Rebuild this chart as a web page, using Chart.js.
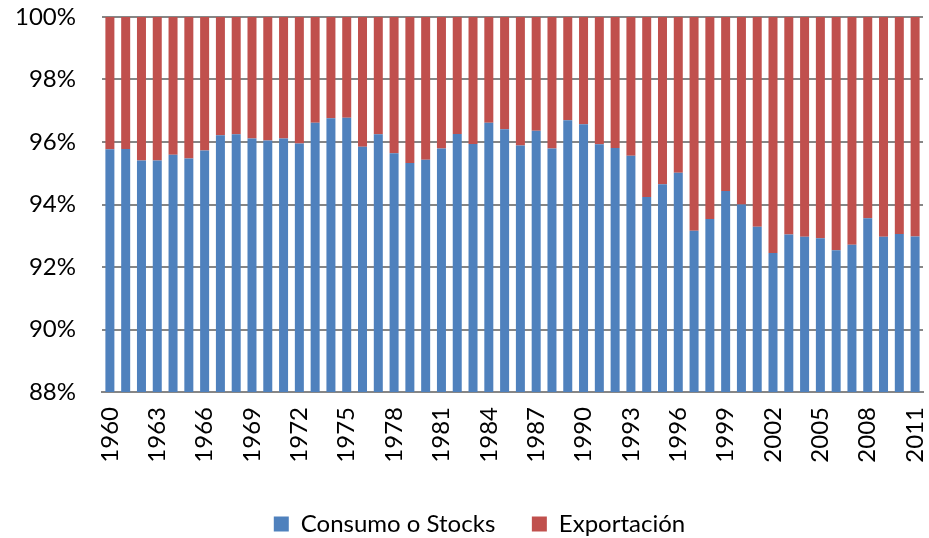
<!DOCTYPE html>
<html>
<head>
<meta charset="utf-8">
<script src="https://cdn.jsdelivr.net/npm/chart.js@4/dist/chart.umd.min.js"></script>
<style>
  html, body { margin: 0; padding: 0; background: #fff; }
  #wrap { width: 929px; height: 538px; }
</style>
</head>
<body>
<div id="wrap"><canvas id="c" width="929" height="538"></canvas></div>
<script>
const years = [];
for (let y = 1960; y <= 2011; y++) years.push(String(y));

const consumo = [
  95.77, 95.78, 95.41, 95.41, 95.59, 95.47, 95.73, 96.22, 96.25, 96.11,
  96.05, 96.11, 95.95, 96.62, 96.76, 96.78, 95.85, 96.25, 95.64, 95.33,
  95.43, 95.79, 96.26, 95.94, 96.62, 96.41, 95.89, 96.36, 95.79, 96.70,
  96.57, 95.93, 95.81, 95.56, 94.24, 94.65, 95.02, 93.16, 93.54, 94.43,
  94.00, 93.29, 92.45, 93.04, 92.97, 92.92, 92.54, 92.71, 93.56, 92.97,
  93.06, 92.98
];
const exportacion = [
  4.23, 4.22, 4.59, 4.59, 4.41, 4.53, 4.27, 3.78, 3.75, 3.89,
  3.95, 3.89, 4.05, 3.38, 3.24, 3.22, 4.15, 3.75, 4.36, 4.67,
  4.57, 4.21, 3.74, 4.06, 3.38, 3.59, 4.11, 3.64, 4.21, 3.30,
  3.43, 4.07, 4.19, 4.44, 5.76, 5.35, 4.98, 6.84, 6.46, 5.57,
  6.00, 6.71, 7.55, 6.96, 7.03, 7.08, 7.46, 7.29, 6.44, 7.03,
  6.94, 7.02
];
const yTicks = [88, 90, 92, 94, 96, 98, 100];

const FONT = "Lato, 'Liberation Sans', sans-serif";

const zeroPad = s => { s.paddingLeft = 0; s.paddingRight = 0; s.paddingTop = 0; s.paddingBottom = 0; };

const shiftLegend = {
  id: 'shiftLegend',
  afterLayout(chart) {
    if (chart.legend) { chart.legend.left += 18; chart.legend.right += 18; }
  }
};

new Chart(document.getElementById('c'), {
  type: 'bar',
  data: {
    labels: years,
    datasets: [
      { label: 'Consumo o Stocks', data: consumo, backgroundColor: '#4F81BD',
        categoryPercentage: 1.0, barPercentage: 0.57 },
      { label: 'Exportación', data: exportacion, backgroundColor: '#C0504D',
        categoryPercentage: 1.0, barPercentage: 0.57 }
    ]
  },
  plugins: [shiftLegend],
  options: {
    responsive: false,
    animation: false,
    layout: { padding: { left: 0, right: 6, top: 17, bottom: -8 } },
    plugins: {
      legend: {
        position: 'bottom',
        labels: {
          font: { family: FONT, size: 24 },
          color: '#000',
          boxWidth: 15, boxHeight: 15,
          padding: 12,
          generateLabels: chart => {
            const items = Chart.defaults.plugins.legend.labels.generateLabels(chart);
            if (items.length) items[0].text = items[0].text + '    ';
            return items;
          }
        }
      },
      tooltip: { enabled: false }
    },
    scales: {
      x: {
        stacked: true,
        grid: { display: false, drawTicks: false },
        border: { display: true, color: '#868686', width: 2 },
        ticks: {
          autoSkip: false,
          minRotation: 90, maxRotation: 90,
          padding: 15,
          color: '#000',
          font: { family: FONT, size: 24 },
          callback: function (v, i) { return i % 3 === 0 ? this.getLabelForValue(v) : ''; }
        },
        afterFit: s => { s.height = 108; zeroPad(s); }
      },
      y: {
        stacked: true,
        min: 88, max: 100,
        afterBuildTicks: s => { s.ticks = yTicks.map(v => ({ value: v })); },
        grid: { color: '#868686', lineWidth: 2, drawTicks: false },
        border: { display: false },
        ticks: {
          color: '#000',
          padding: 26,
          font: { family: FONT, size: 24 },
          callback: v => v + '%'
        },
        afterFit: s => { s.width = 102; zeroPad(s); }
      }
    }
  }
});
</script>
</body>
</html>
